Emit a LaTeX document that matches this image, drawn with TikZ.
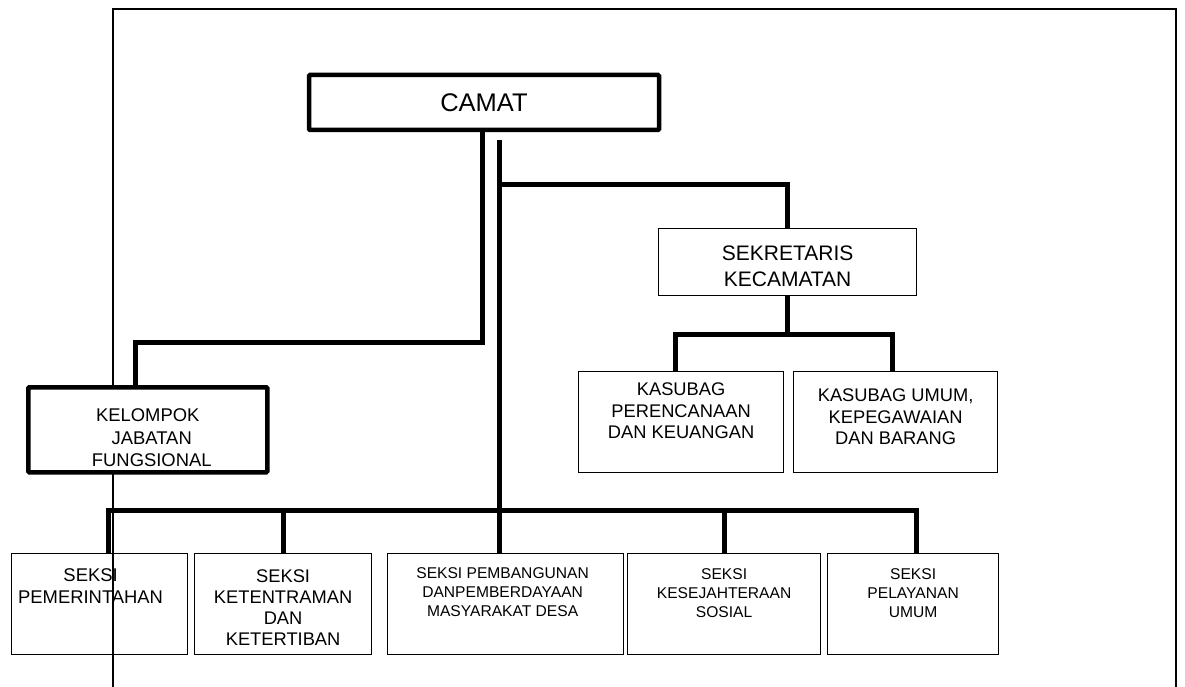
\documentclass[tikz,border=0pt]{standalone}
\usepackage{fontspec}
\setmainfont{Liberation Sans}

% text block of a box: width, height, top gap, lines
\newcommand{\cell}[4]{\parbox[c][#2][t]{#1}{\centering\vspace*{#3}#4}}

\begin{document}
\begin{tikzpicture}[x=1pt,y=-1pt,
    unit/.style={draw,line width=1.2pt,inner sep=0pt,anchor=north west},
    heavy/.style={draw,line width=4.5pt,inner sep=0pt,rounded corners=1pt},
    link/.style={line width=5pt},
    big/.style={font=\fontsize{18.4}{22}\selectfont},
    small/.style={font=\fontsize{15.6}{18.7}\selectfont}]
\useasboundingbox (0,0) rectangle (1185,687);
\draw[line width=1.1pt] (113,687) -- (113,9) -- (1176,9) -- (1176,687);

\node[heavy,minimum width=350pt,minimum height=55pt,font=\fontsize{25.5}{30}\selectfont] (camat) at (484,102.5) {CAMAT};
\node[unit,font=\fontsize{21}{26}\selectfont] (sekcam) at (658,228) {\cell{258pt}{67pt}{17.4pt}{SEKRETARIS\\KECAMATAN}};
\node[unit,font=\fontsize{18.3}{21.5}\selectfont] (kasubagpk) at (578,371) {\cell{205pt}{101pt}{11.4pt}{KASUBAG\\PERENCANAAN\\DAN KEUANGAN}};
\node[unit,font=\fontsize{18.3}{21.5}\selectfont] (kasubagumum) at (793,371) {\cell{204pt}{101pt}{17.4pt}{KASUBAG UMUM,\\KEPEGAWAIAN\\DAN BARANG}};
\node[heavy,fill=white,anchor=north west,font=\fontsize{18.4}{22.5}\selectfont] (kjf) at (26,385) {\cell{239pt}{85pt}{21.4pt}{KELOMPOK\\\hspace*{8pt}JABATAN\\\hspace*{8pt}FUNGSIONAL}};

\node[unit,big] (seksipem) at (11,553) {\cell{176pt}{101pt}{15.4pt}{\hspace*{-18pt}SEKSI\\\hspace*{-18pt}PEMERINTAHAN}};
\node[unit,font=\fontsize{18.3}{20.8}\selectfont] (seksitrantib) at (194,553) {\cell{177pt}{101pt}{16.4pt}{SEKSI\\KETENTRAMAN\\DAN\\KETERTIBAN}};
\node[unit,small] (seksipmd) at (387,553) {\cell{236pt}{101pt}{14.4pt}{\hspace*{-6pt}SEKSI PEMBANGUNAN\\\hspace*{-6pt}DANPEMBERDAYAAN\\\hspace*{-6pt}MASYARAKAT DESA}};
\node[unit,small] (seksikesos) at (627,553) {\cell{193pt}{101pt}{15.4pt}{SEKSI\\KESEJAHTERAAN\\SOSIAL}};
\node[unit,small] (seksipu) at (827,553) {\cell{171pt}{101pt}{15.4pt}{SEKSI\\PELAYANAN\\UMUM}};

\coordinate (sbus) at (499,185);
\coordinate (kbus) at (784,334);
\coordinate (bbus) at (499,510);

% lines from camat
\draw[link] ([xshift=-12.5pt]kjf.north) |- ([xshift=-2pt,yshift=-210pt]camat.south) -- ([xshift=-2pt]camat.south);
\draw[link] ([xshift=15pt,yshift=-8pt]camat.south) -- ([xshift=15pt]camat.south |- seksipmd.north);
\draw[link] (sbus) -| (sekcam.north);

% sekretariat
\draw[link] (sekcam.south) -- (sekcam.south |- kbus);
\draw[link] ([xshift=-6pt]kasubagpk.north) |- (kbus) -| ([xshift=-3pt]kasubagumum.north);

% seksi
\draw[link] ([xshift=9pt]seksipem.north) |- (bbus) -| ([xshift=3pt]seksipu.north);
\draw[link] (seksitrantib.north) -- (seksitrantib.north |- bbus);
\draw[link] (seksikesos.north) -- (seksikesos.north |- bbus);
\end{tikzpicture}
\end{document}
